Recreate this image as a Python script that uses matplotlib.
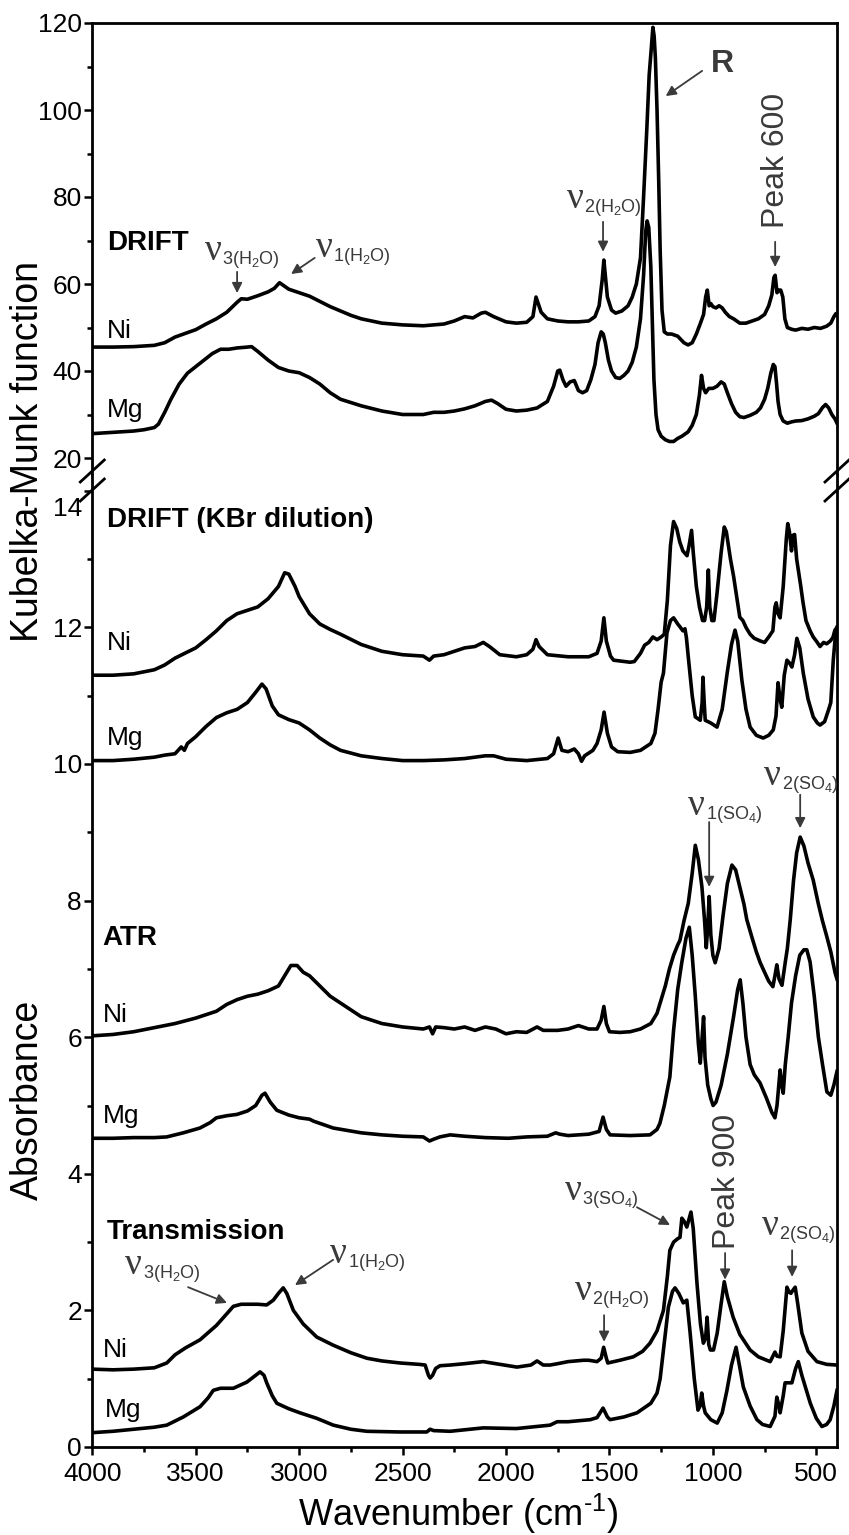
#==========================================================================
# IR spectra of Ni / Mg sulfate samples: DRIFT, DRIFT (KBr), ATR, Transmission
#==========================================================================
import numpy as np
import matplotlib.pyplot as plt
from matplotlib.lines import Line2D
from matplotlib.ticker import MultipleLocator, FixedLocator
from matplotlib.transforms import ScaledTranslation

plt.rcParams['font.family'] = ['Liberation Sans', 'DejaVu Sans']
plt.rcParams['mathtext.fontset'] = 'custom'
plt.rcParams['mathtext.rm'] = 'Liberation Sans'
plt.rcParams['mathtext.it'] = 'Liberation Sans:italic'
plt.rcParams['mathtext.bf'] = 'Liberation Sans:bold'

#==========================================================================
# Data (wavenumber in cm-1)
#==========================================================================
# DRIFT, Kubelka-Munk units
drift_ni_wn = [4000, 3900, 3800, 3700, 3650, 3600, 3500, 3450, 3400, 3350, 3300, 3280, 3250, 3200, 3150,
               3120, 3095, 3080, 3050, 3000, 2950, 2900, 2850, 2800, 2750, 2700, 2600, 2500, 2400, 2300,
               2250, 2200, 2160, 2120, 2100, 2060, 2000, 1950, 1900, 1870, 1855, 1830, 1800, 1750, 1700,
               1650, 1600, 1570, 1550, 1535, 1527, 1510, 1490, 1470, 1440, 1410, 1390, 1370, 1350, 1335,
               1320, 1308, 1298, 1290, 1284, 1278, 1270, 1262, 1255, 1246, 1235, 1220, 1200, 1170, 1140,
               1120, 1100, 1080, 1060, 1045, 1035, 1027, 1018, 1010, 1000, 985, 970, 955, 940, 920, 900,
               870, 840, 810, 780, 750, 730, 715, 705, 699, 690, 680, 672, 662, 652, 640, 620, 600, 570,
               540, 510, 480, 450, 430, 415, 405, 400]
drift_ni_km = [45.5, 45.5, 45.6, 45.9, 46.5, 47.8, 49.5, 50.8, 52.0, 53.5, 55.8, 56.6, 56.5, 57.3, 58.2,
               59.0, 60.3, 59.8, 58.8, 58.0, 57.2, 56.0, 54.8, 53.8, 52.8, 52.0, 51.0, 50.6, 50.4, 50.8,
               51.5, 52.5, 52.2, 53.3, 53.5, 52.5, 51.3, 51.0, 51.2, 52.5, 57.0, 53.5, 52.0, 51.5, 51.3,
               51.3, 51.5, 52.5, 55.0, 61.0, 65.5, 57.0, 54.0, 53.3, 53.8, 55.0, 57.0, 60.0, 66.0, 80.0,
               95.0, 108.0, 114.0, 119.0, 117.0, 112.0, 100.0, 84.0, 68.0, 54.0, 49.0, 48.5, 48.5, 48.0, 46.5,
               46.0, 46.5, 48.5, 51.0, 53.0, 57.0, 58.6, 55.0, 55.5, 54.8, 54.5, 55.0, 54.5, 53.5, 52.5, 52.0,
               51.0, 51.0, 51.5, 52.0, 53.0, 55.0, 57.5, 61.5, 62.0, 58.0, 58.6, 58.6, 57.0, 52.0, 50.0,
               49.6, 49.4, 49.8, 49.6, 50.0, 49.8, 50.3, 51.0, 52.5, 53.2, 52.8]

drift_mg_wn = [4000, 3900, 3800, 3750, 3700, 3680, 3650, 3620, 3580, 3540, 3500, 3460, 3420, 3380, 3340,
               3300, 3250, 3230, 3200, 3150, 3100, 3050, 3000, 2950, 2900, 2850, 2800, 2700, 2600, 2500,
               2400, 2350, 2300, 2250, 2200, 2150, 2100, 2070, 2040, 2000, 1950, 1900, 1850, 1800, 1770,
               1750, 1740, 1725, 1710, 1690, 1670, 1650, 1630, 1610, 1590, 1570, 1555, 1540, 1530, 1520,
               1505, 1490, 1470, 1450, 1430, 1410, 1390, 1370, 1350, 1335, 1325, 1318, 1310, 1300, 1292,
               1285, 1275, 1265, 1250, 1230, 1210, 1190, 1170, 1150, 1120, 1100, 1080, 1065, 1055, 1045,
               1035, 1020, 1000, 980, 960, 945, 930, 910, 890, 870, 850, 820, 790, 770, 750, 735, 720,
               708, 700, 692, 685, 675, 660, 640, 620, 600, 570, 540, 510, 490, 470, 455, 440, 425, 410, 400]
drift_mg_km = [25.6, 25.9, 26.2, 26.5, 27.0, 27.8, 30.5, 33.5, 37.0, 39.5, 41.0, 42.5, 44.0, 45.0, 45.0,
               45.3, 45.5, 45.6, 44.5, 42.5, 40.8, 40.0, 39.6, 38.5, 37.0, 35.0, 33.5, 32.0, 30.8, 30.0,
               30.0, 30.5, 30.5, 30.8, 31.3, 32.0, 33.0, 33.3, 32.5, 31.2, 30.8, 31.0, 31.5, 33.0, 36.5,
               40.0, 40.2, 38.0, 36.5, 37.5, 37.8, 35.5, 35.0, 35.5, 38.0, 41.5, 46.5, 49.0, 48.5, 46.5,
               42.5, 40.0, 38.5, 38.3, 39.0, 40.0, 42.0, 45.5, 52.0, 62.0, 72.0, 74.5, 73.0, 64.0, 50.0,
               38.0, 30.0, 26.5, 25.0, 24.2, 23.8, 23.8, 24.5, 25.0, 26.0, 27.5, 30.0, 34.5, 39.0, 36.0,
               35.0, 36.0, 36.0, 36.5, 37.5, 37.0, 35.0, 32.5, 30.5, 29.5, 29.3, 29.8, 30.5, 31.5, 33.5, 36.0, 39.5,
               41.5, 41.0, 37.0, 33.0, 30.0, 28.5, 28.0, 28.3, 28.5, 28.6, 29.0, 29.6, 30.2, 31.6, 32.3, 31.5, 30.0, 29.0, 28.0]

# DRIFT (KBr dilution), absorbance
kbr_ni_wn = [4000, 3900, 3800, 3700, 3650, 3600, 3500, 3450, 3400, 3350, 3300, 3250, 3200, 3150, 3100,
             3070, 3050, 3020, 3000, 2950, 2900, 2850, 2800, 2700, 2600, 2500, 2400, 2370, 2350, 2300,
             2250, 2200, 2150, 2110, 2080, 2030, 1950, 1900, 1870, 1855, 1840, 1800, 1700, 1600, 1560,
             1540, 1527, 1515, 1495, 1480, 1400, 1380, 1350, 1330, 1310, 1290, 1270, 1250, 1235, 1220,
             1205, 1190, 1175, 1160, 1145, 1125, 1115, 1103, 1095, 1080, 1065, 1050, 1040, 1030, 1022,
             1015, 1005, 995, 980, 960, 945, 935, 915, 900, 885, 870, 855, 840, 820, 800, 770, 750, 730,
             710, 700, 694, 685, 675, 660, 645, 638, 630, 620, 612, 605, 595, 585, 575, 565, 550, 530,
             515, 500, 482, 465, 450, 433, 420, 410, 400]
kbr_ni_a = [11.30, 11.30, 11.32, 11.38, 11.45, 11.55, 11.70, 11.82, 11.95, 12.10, 12.20, 12.25, 12.30, 12.42, 12.60,
            12.80, 12.78, 12.60, 12.45, 12.20, 12.05, 11.97, 11.90, 11.75, 11.65, 11.60, 11.58, 11.52, 11.58, 11.60,
            11.65, 11.70, 11.72, 11.78, 11.72, 11.60, 11.57, 11.60, 11.68, 11.82, 11.72, 11.60, 11.57, 11.57, 11.62,
            11.80, 12.14, 11.80, 11.58, 11.52, 11.49, 11.50, 11.62, 11.74, 11.78, 11.86, 11.82, 11.86, 11.90, 12.40,
            13.20, 13.55, 13.45, 13.25, 13.12, 13.05, 13.20, 13.42, 13.10, 12.60, 12.30, 12.10, 12.10, 12.30, 12.84,
            12.30, 12.10, 12.10, 12.50, 13.10, 13.47, 13.40, 13.00, 12.75, 12.45, 12.15, 12.10, 12.00, 11.90, 11.84, 11.80, 11.78, 11.86,
            11.95, 12.30, 12.36, 12.20, 12.14, 12.60, 13.30, 13.52, 13.40, 13.12, 13.35, 13.36, 13.00, 12.80, 12.60, 12.38, 12.10, 11.95,
            11.86, 11.80, 11.72, 11.78, 11.76, 11.80, 11.85, 11.96, 12.00]

kbr_mg_wn = [4000, 3900, 3800, 3700, 3650, 3600, 3570, 3555, 3540, 3500, 3450, 3400, 3350, 3300, 3250,
             3210, 3180, 3160, 3130, 3100, 3050, 3000, 2950, 2900, 2850, 2800, 2700, 2600, 2500, 2400,
             2300, 2200, 2100, 2060, 2000, 1900, 1800, 1770, 1748, 1730, 1700, 1670, 1650, 1635, 1620,
             1580, 1560, 1540, 1526, 1510, 1490, 1460, 1400, 1350, 1300, 1280, 1265, 1250, 1239, 1222,
             1205, 1190, 1170, 1157, 1145, 1135, 1128, 1119, 1100, 1085, 1061, 1052, 1048, 1042, 1037,
             1010, 980, 955, 931, 910, 893, 880, 860, 840, 820, 790, 757, 730, 708, 695, 685, 675, 667,
             655, 642, 630, 618, 605, 594, 580, 563, 540, 515, 495, 482, 460, 440, 430, 418, 410, 400]
kbr_mg_a = [10.05, 10.05, 10.07, 10.10, 10.13, 10.15, 10.25, 10.20, 10.30, 10.40, 10.55, 10.68, 10.75, 10.80, 10.90,
            11.05, 11.17, 11.10, 10.85, 10.72, 10.65, 10.60, 10.50, 10.38, 10.28, 10.20, 10.12, 10.08, 10.05, 10.05,
            10.06, 10.08, 10.12, 10.12, 10.07, 10.05, 10.08, 10.15, 10.38, 10.20, 10.18, 10.22, 10.15, 10.04, 10.12,
            10.20, 10.30, 10.50, 10.76, 10.45, 10.25, 10.18, 10.17, 10.20, 10.30, 10.45, 10.80, 11.20, 11.33, 11.92,
            12.10, 12.14, 12.05, 12.00, 11.95, 11.98, 11.85, 11.57, 11.00, 10.69, 10.64, 10.90, 11.27, 10.90, 10.64,
            10.60, 10.54, 10.80, 11.33, 11.75, 11.96, 11.80, 11.23, 10.80, 10.54, 10.42, 10.38, 10.42, 10.50, 10.70, 11.19, 10.95, 10.83,
            11.30, 11.52, 11.48, 11.42, 11.60, 11.84, 11.70, 11.33, 10.95, 10.69, 10.60, 10.57, 10.62, 10.80, 10.90, 11.52, 11.80, 12.00]

# ATR, absorbance
atr_ni_wn = [4000, 3900, 3800, 3700, 3600, 3500, 3400, 3350, 3300, 3250, 3200, 3150, 3100, 3070, 3040,
             3010, 2980, 2950, 2900, 2850, 2800, 2700, 2600, 2500, 2400, 2370, 2355, 2340, 2300, 2250,
             2200, 2150, 2100, 2050, 2000, 1950, 1900, 1850, 1820, 1750, 1700, 1650, 1600, 1560, 1540,
             1527, 1515, 1500, 1450, 1400, 1350, 1300, 1270, 1250, 1230, 1210, 1190, 1170, 1159, 1140,
             1119, 1100, 1085, 1070, 1053, 1040, 1032, 1025, 1018, 1010, 1000, 989, 970, 950, 930, 908,
             890, 870, 850, 836, 810, 790, 771, 750, 730, 710, 700, 691, 680, 666, 650, 640, 626, 610,
             595, 578, 560, 540, 515, 490, 470, 449, 430, 409, 400]
atr_ni_a = [6.02, 6.04, 6.08, 6.14, 6.20, 6.28, 6.38, 6.48, 6.55, 6.60, 6.63, 6.68, 6.75, 6.90, 7.05,
            7.05, 6.95, 6.90, 6.75, 6.60, 6.50, 6.30, 6.20, 6.15, 6.12, 6.15, 6.05, 6.15, 6.14, 6.12,
            6.15, 6.10, 6.15, 6.12, 6.05, 6.08, 6.07, 6.15, 6.10, 6.10, 6.12, 6.17, 6.12, 6.12, 6.25,
            6.45, 6.20, 6.08, 6.07, 6.08, 6.12, 6.20, 6.35, 6.55, 6.75, 7.00, 7.20, 7.35, 7.42, 7.70,
            7.96, 8.40, 8.81, 8.60, 8.20, 7.70, 7.31, 7.60, 8.06, 7.50, 7.20, 7.09, 7.30, 7.80, 8.25, 8.52,
            8.45, 8.20, 7.95, 7.72, 7.45, 7.25, 7.09, 6.95, 6.82, 6.74, 6.90, 7.06, 6.85, 6.76, 7.10, 7.30, 7.72, 8.30,
            8.70, 8.93, 8.80, 8.55, 8.30, 7.95, 7.70, 7.47, 7.25, 6.94, 6.85]

atr_mg_wn = [4000, 3900, 3800, 3700, 3640, 3560, 3480, 3430, 3400, 3350, 3300, 3250, 3210, 3180, 3165,
             3140, 3108, 3050, 3000, 2950, 2930, 2835, 2700, 2600, 2500, 2400, 2370, 2355, 2320, 2270,
             2200, 2100, 1990, 1900, 1800, 1760, 1740, 1700, 1650, 1600, 1550, 1531, 1515, 1497, 1400,
             1304, 1270, 1256, 1235, 1208, 1190, 1170, 1150, 1130, 1114, 1100, 1085, 1070, 1061, 1052,
             1045, 1038, 1025, 1010, 999, 985, 960, 930, 900, 880, 868, 855, 840, 820, 800, 772, 740, 715,
             700, 690, 675, 667, 660, 650, 636, 620, 600, 580, 560, 546, 530, 510, 490, 470, 449, 430, 415, 400]
atr_mg_a = [4.52, 4.52, 4.53, 4.53, 4.54, 4.60, 4.67, 4.75, 4.82, 4.85, 4.87, 4.92, 5.00, 5.15, 5.18,
            5.05, 4.93, 4.86, 4.82, 4.80, 4.77, 4.67, 4.60, 4.57, 4.55, 4.54, 4.48, 4.50, 4.54, 4.57,
            4.55, 4.53, 4.52, 4.54, 4.55, 4.60, 4.58, 4.56, 4.57, 4.58, 4.62, 4.83, 4.65, 4.57, 4.56,
            4.57, 4.65, 4.74, 5.00, 5.42, 6.10, 6.70, 7.10, 7.45, 7.61, 7.20, 6.60, 5.90, 5.62, 6.00,
            6.30, 5.70, 5.30, 5.10, 5.00, 5.05, 5.30, 5.75, 6.30, 6.70, 6.84, 6.50, 6.00, 5.60, 5.45, 5.33, 5.10, 4.90,
            4.82, 5.00, 5.52, 5.30, 5.18, 5.60, 6.00, 6.50, 6.90, 7.20, 7.28, 7.28, 7.10, 6.60, 6.00, 5.60, 5.20, 5.15, 5.30, 5.50]

# Transmission, absorbance
tr_ni_wn = [4000, 3900, 3800, 3700, 3640, 3600, 3550, 3479, 3400, 3350, 3318, 3280, 3200, 3157, 3125,
            3100, 3077, 3060, 3028, 2980, 2915, 2835, 2750, 2673, 2600, 2512, 2420, 2391, 2375, 2367,
            2355, 2340, 2319, 2270, 2200, 2110, 2050, 1947, 1880, 1850, 1820, 1787, 1750, 1700, 1626,
            1600, 1560, 1540, 1528, 1515, 1508, 1450, 1385, 1340, 1304, 1270, 1239, 1220, 1208, 1190,
            1170, 1159, 1150, 1138, 1126, 1106, 1095, 1077, 1060, 1046, 1035, 1028, 1020, 1012, 997,
            979, 960, 945, 930, 902, 870, 820, 780, 723, 700, 690, 675, 660, 642, 632, 623, 612, 602,
            590, 570, 540, 497, 450, 400]
tr_ni_a = [1.14, 1.13, 1.14, 1.16, 1.23, 1.35, 1.45, 1.57, 1.78, 1.95, 2.06, 2.09, 2.09, 2.08, 2.15,
           2.25, 2.33, 2.25, 2.00, 1.80, 1.61, 1.49, 1.38, 1.30, 1.26, 1.23, 1.21, 1.20, 1.05, 1.01,
           1.05, 1.15, 1.19, 1.20, 1.22, 1.25, 1.22, 1.17, 1.20, 1.26, 1.20, 1.20, 1.22, 1.25, 1.27,
           1.27, 1.25, 1.30, 1.46, 1.30, 1.23, 1.27, 1.32, 1.40, 1.52, 1.70, 2.00, 2.50, 2.88, 3.00,
           3.05, 3.07, 3.35, 3.30, 3.22, 3.44, 3.20, 2.40, 1.80, 1.52, 1.60, 1.90, 1.50, 1.42, 1.42,
           1.67, 2.10, 2.42, 2.20, 1.90, 1.65, 1.42, 1.32, 1.25, 1.39, 1.33, 1.32, 1.70, 2.34, 2.27, 2.25, 2.30, 2.34,
           2.10, 1.67, 1.40, 1.25, 1.21, 1.20]

tr_mg_wn = [4000, 3900, 3800, 3700, 3640, 3560, 3479, 3440, 3415, 3380, 3318, 3253, 3210, 3189, 3170,
            3157, 3130, 3108, 3050, 2996, 2915, 2835, 2750, 2673, 2512, 2383, 2367, 2350, 2270, 2110,
            1950, 1787, 1753, 1700, 1593, 1560, 1531, 1510, 1497, 1430, 1367, 1300, 1270, 1255, 1239,
            1215, 1195, 1183, 1165, 1143, 1126, 1110, 1090, 1072, 1062, 1054, 1045, 1037, 1010, 979,
            955, 932, 910, 888, 872, 853, 820, 787, 760, 723, 700, 691, 680, 675, 660, 651, 635, 618,
            600, 587, 570, 550, 529, 500, 473, 450, 433, 415, 400]
tr_mg_a = [0.21, 0.23, 0.26, 0.29, 0.32, 0.44, 0.59, 0.72, 0.83, 0.86, 0.86, 0.95, 1.05, 1.10, 1.05,
           0.94, 0.75, 0.64, 0.56, 0.50, 0.42, 0.32, 0.26, 0.23, 0.22, 0.22, 0.26, 0.24, 0.23, 0.28,
           0.27, 0.32, 0.37, 0.37, 0.40, 0.43, 0.57, 0.44, 0.40, 0.44, 0.50, 0.64, 0.79, 1.00, 1.42,
           2.05, 2.28, 2.33, 2.25, 2.11, 2.15, 1.67, 1.00, 0.54, 0.60, 0.79, 0.60, 0.50, 0.40, 0.35,
           0.50, 0.83, 1.20, 1.46, 1.20, 0.88, 0.60, 0.40, 0.33, 0.30, 0.45, 0.73, 0.60, 0.50, 0.75, 0.94, 0.94, 0.94,
           1.15, 1.25, 1.05, 0.85, 0.64, 0.42, 0.30, 0.33, 0.40, 0.60, 0.83]

#==========================================================================
# Figure layout: two stacked axes forming one broken y axis
#==========================================================================
W, H = 849, 1535
fig = plt.figure(figsize=(W / 100, H / 100), dpi=100)

def fx(px):
    return px / W

def fy(py):
    return 1 - py / H

left, right, top, join, bottom = 92.3, 837, 23, 475, 1447
ax_top = fig.add_axes([fx(left), fy(join), fx(right) - fx(left), (join - top) / H])
ax_bot = fig.add_axes([fx(left), fy(bottom), fx(right) - fx(left), (bottom - join) / H])

lw = 2.6
ax_top.plot(drift_ni_wn, drift_ni_km, color='black', lw=lw, solid_joinstyle='round')
ax_top.plot(drift_mg_wn, drift_mg_km, color='black', lw=lw, solid_joinstyle='round')
for wn, a in [(kbr_ni_wn, kbr_ni_a), (kbr_mg_wn, kbr_mg_a), (atr_ni_wn, atr_ni_a),
              (atr_mg_wn, atr_mg_a), (tr_ni_wn, tr_ni_a), (tr_mg_wn, tr_mg_a)]:
    ax_bot.plot(wn, a, color='black', lw=lw, solid_joinstyle='round')

ax_top.set_xlim(4000, 400)
ax_bot.set_xlim(4000, 400)
ax_top.set_ylim(20 + (458 - join) / 4.35, 120)
ax_bot.set_ylim(0, (bottom - join) / 68.3)

for ax in (ax_top, ax_bot):
    for s in ax.spines.values():
        s.set_linewidth(2.0)
    ax.tick_params(axis='y', which='both', direction='out', left=True, right=False,
                   labelsize=19, width=1.8, pad=1.5)
    ax.tick_params(axis='y', which='major', length=6)
    ax.tick_params(axis='y', which='minor', length=3.5)
ax_top.spines['bottom'].set_visible(False)
ax_bot.spines['top'].set_visible(False)

ax_top.yaxis.set_major_locator(FixedLocator([20, 40, 60, 80, 100, 120]))
ax_top.yaxis.set_minor_locator(FixedLocator([30, 50, 70, 90, 110]))
ax_top.tick_params(axis='x', which='both', bottom=False, top=False, labelbottom=False)

ax_bot.yaxis.set_major_locator(FixedLocator([0, 2, 4, 6, 8, 10, 12, 14]))
ax_bot.yaxis.set_minor_locator(FixedLocator([1, 3, 5, 7, 9, 11, 13]))
ax_bot.xaxis.set_major_locator(MultipleLocator(500))
ax_bot.xaxis.set_minor_locator(MultipleLocator(250))
ax_bot.tick_params(axis='x', which='both', direction='out', top=False, labelsize=19, width=1.8, pad=5)
ax_bot.tick_params(axis='x', which='major', length=6)
ax_bot.tick_params(axis='x', which='minor', length=3.5)
ax_bot.set_xticks([4000, 3500, 3000, 2500, 2000, 1500, 1000, 500])

# the "14" label sits a little lower, clear of the break marks
fig.canvas.draw()
lab14 = ax_bot.get_yticklabels()[-1]
lab14.set_transform(lab14.get_transform() + ScaledTranslation(0, -11 / 72, fig.dpi_scale_trans))

# axis titles
fig.text(fx(28), fy(452), 'Kubelka-Munk function', rotation=90, ha='center', va='center', fontsize=27)
fig.text(fx(28), fy(1100), 'Absorbance', rotation=90, ha='center', va='center', fontsize=27)
fig.text(fx(458), fy(1526), r'Wavenumber (cm$^{\text{-1}}$)', ha='center', va='baseline', fontsize=26)

# break marks on the y axis
for xc in (left, right):
    for yc in (471, 490):
        fig.add_artist(Line2D([fx(xc - 12), fx(xc + 12)], [fy(yc + 11), fy(yc - 11)],
                              color='black', lw=2.0, transform=fig.transFigure))

#==========================================================================
# Labels and annotations
#==========================================================================
grey = '#3a3a3a'
arrow = dict(arrowstyle='-|>', color=grey, lw=1.3, mutation_scale=15, shrinkA=0, shrinkB=0)

def nu(ax, x, y, sub):
    ax.text(x, y, '\u03bd', fontsize=27, family='Liberation Serif', color=grey, va='baseline', ha='left')
    ax.annotate(sub, xy=(x, y), xytext=(12.5, -3), textcoords='offset points',
                fontsize=13, color=grey, va='baseline', ha='left')

def arr(ax, x0, y0, x1, y1):
    ax.annotate('', xy=(x1, y1), xytext=(x0, y0), arrowprops=arrow)

# top panel
ax_top.text(3929, 69.4, 'DRIFT', fontsize=20, fontweight='bold', va='center')
ax_top.text(3929, 47.6, 'Ni', fontsize=19, va='baseline')
ax_top.text(3929, 29.4, 'Mg', fontsize=19, va='baseline')
nu(ax_top, 3455, 65.5, '3(H$_2$O)')
arr(ax_top, 3300, 62.8, 3300, 57.9)
nu(ax_top, 2918, 66.2, '1(H$_2$O)')
arr(ax_top, 2925, 66.0, 3039, 62.3)
nu(ax_top, 1705, 77.5, '2(H$_2$O)')
arr(ax_top, 1531, 74.3, 1531, 67.4)
ax_top.text(956, 110.6, 'R', fontsize=23, fontweight='bold', color=grey, ha='center', va='center')
arr(ax_top, 1052, 109.0, 1228, 103.2)
ax_top.text(694, 88.3, 'Peak 600', fontsize=23, color=grey, rotation=90, ha='center', va='center')
arr(ax_top, 699, 69.7, 699, 63.9)

# bottom panel
ax_bot.text(3929, 13.57, 'DRIFT (KBr dilution)', fontsize=20, fontweight='bold', va='center')
ax_bot.text(3929, 11.67, 'Ni', fontsize=19, va='baseline')
ax_bot.text(3929, 10.28, 'Mg', fontsize=19, va='baseline')
ax_bot.text(3950, 7.45, 'ATR', fontsize=20, fontweight='bold', va='center')
ax_bot.text(3950, 6.22, 'Ni', fontsize=19, va='baseline')
ax_bot.text(3950, 4.74, 'Mg', fontsize=19, va='baseline')
ax_bot.text(3929, 3.15, 'Transmission', fontsize=20, fontweight='bold', va='center')
ax_bot.text(3950, 1.32, 'Ni', fontsize=19, va='baseline')
ax_bot.text(3940, 0.44, 'Mg', fontsize=19, va='baseline')

nu(ax_bot, 1119, 9.25, '1(SO$_4$)')
arr(ax_bot, 1018, 9.15, 1018, 8.2)
nu(ax_bot, 752, 9.69, '2(SO$_4$)')
arr(ax_bot, 578, 9.55, 578, 9.06)

nu(ax_bot, 3841, 2.53, '3(H$_2$O)')
arr(ax_bot, 3537, 2.34, 3349, 2.11)
nu(ax_bot, 2850, 2.69, '1(H$_2$O)')
arr(ax_bot, 2836, 2.74, 3020, 2.37)
nu(ax_bot, 1666, 2.15, '2(H$_2$O)')
arr(ax_bot, 1526, 1.93, 1526, 1.54)
nu(ax_bot, 1715, 3.62, '3(SO$_4$)')
arr(ax_bot, 1367, 3.51, 1207, 3.25)
ax_bot.text(932, 3.89, 'Peak 900', fontsize=23, color=grey, rotation=90, ha='center', va='center')
arr(ax_bot, 941, 2.84, 941, 2.45)
nu(ax_bot, 763, 3.10, '2(SO$_4$)')
arr(ax_bot, 617, 2.88, 617, 2.49)

fig.savefig('out.png', dpi=100)
